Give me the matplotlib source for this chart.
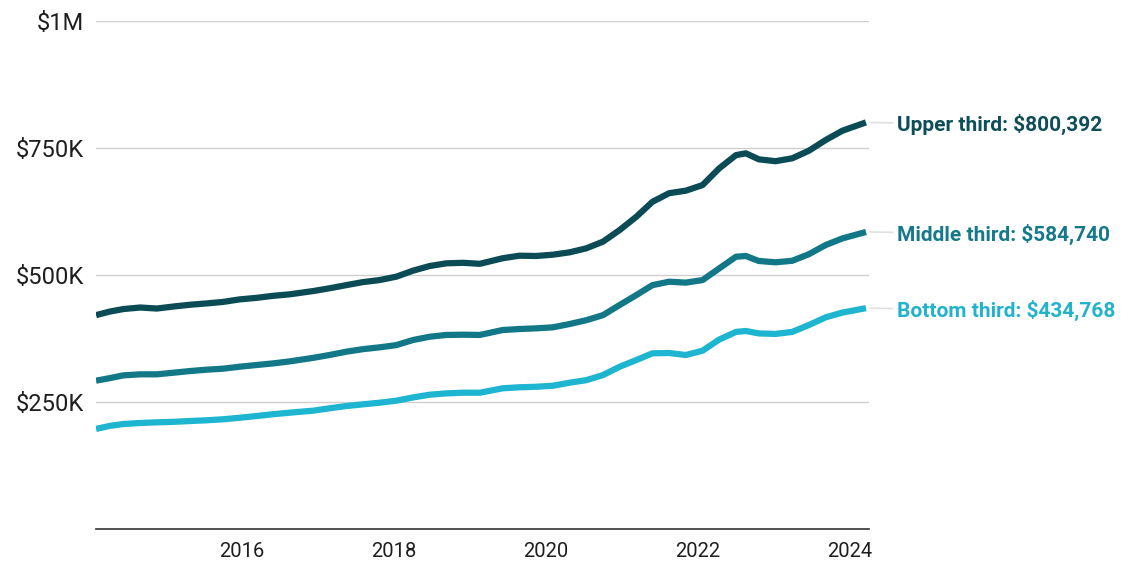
import matplotlib.pyplot as plt
from matplotlib.ticker import FuncFormatter

plt.rcParams['font.family'] = ['Roboto', 'DejaVu Sans']

# Decimal years of the points
years = [2014.08, 2014.26, 2014.44, 2014.66, 2014.88, 2015.10, 2015.32, 2015.53,
         2015.75, 2015.97, 2016.19, 2016.41, 2016.63, 2016.94, 2017.15, 2017.37,
         2017.59, 2017.81, 2018.03, 2018.25, 2018.47, 2018.69, 2018.91, 2019.13,
         2019.43, 2019.65, 2019.87, 2020.09, 2020.31, 2020.53, 2020.75, 2020.97,
         2021.19, 2021.40, 2021.62, 2021.84, 2022.06, 2022.28, 2022.50, 2022.63,
         2022.80, 2023.02, 2023.24, 2023.46, 2023.68, 2023.90, 2024.21]

# Typical home value, thousands of dollars
upper = [421, 428, 433, 436, 434, 438, 441.5, 444,
         447, 452, 455, 459, 462, 468.5, 473.8, 480,
         486, 490, 496.7, 508.5, 517.7, 523, 524, 522,
         533, 538, 537.4, 540, 544.6, 552.5, 565.6, 588.6,
         614.8, 644, 661, 666, 677, 710, 736, 739.5,
         727.7, 724, 729.7, 744.7, 765.7, 784, 800.392]
middle = [292, 297, 302.5, 304.5, 304.5, 307.7, 311, 313.6,
          315.6, 319.5, 322.8, 326, 330, 337, 342.5, 349,
          354, 357.6, 362, 372, 378.5, 382, 382.5, 382,
          391.7, 393.7, 395, 397, 403.5, 411, 421, 441,
          460.6, 480, 486.8, 485, 490, 513, 536, 537.4,
          527.6, 525, 528, 541, 559, 572, 584.740]
bottom = [197, 203, 206.7, 208.7, 210, 211, 212.6, 214,
          216, 219, 222.4, 226, 229, 233, 237.6, 242,
          245.4, 248.6, 252.6, 259, 264.4, 267, 268.3, 268.3,
          277, 279, 280, 282, 288, 293, 303, 319.5,
          332.7, 345.8, 346.5, 342.5, 351, 373, 388, 389.8,
          385, 384, 388, 401.6, 416.7, 426, 434.768]

labels = ['Upper third: $800,392', 'Middle third: $584,740', 'Bottom third: $434,768']
colors = ['#0b4b56', '#127888', '#1db5cf']
text_colors = ['#0e4e59', '#16798a', '#22b3cc']

fig = plt.figure(figsize=(11.34, 5.61), dpi=100)
ax = fig.add_axes([0.0847, 0.057, 0.6816, 0.9056])

for series, c, tc, lab in zip([upper, middle, bottom], colors, text_colors, labels):
    vals = [v * 1000 for v in series]
    ax.plot(years, vals, color=c, lw=4.5, solid_capstyle='butt', solid_joinstyle='round', zorder=3)
    ax.annotate(lab, xy=(years[-1], vals[-1]), xytext=(31, -2), textcoords='offset pixels',
                va='center', ha='left', fontsize=15, fontweight='bold', color=tc,
                annotation_clip=False,
                arrowprops=dict(arrowstyle='-', color='#e0e0e0', lw=1.2, shrinkA=1, shrinkB=3))

ax.set_xlim(2014.08, 2024.25)
ax.set_ylim(0, 1000000)
ax.set_yticks([250000, 500000, 750000, 1000000])
ax.yaxis.set_major_formatter(FuncFormatter(lambda v, p: '$1M' if v >= 1e6 else '$%dK' % (v / 1000)))
ax.set_xticks([2016, 2018, 2020, 2022, 2024])
ax.set_xticklabels(['2016', '2018', '2020', '2022', '2024'])

ax.grid(axis='y', color='#d0d0d0', lw=1)
ax.set_axisbelow(True)
for s in ['top', 'right', 'left']:
    ax.spines[s].set_visible(False)
ax.spines['bottom'].set_color('#333333')
ax.spines['bottom'].set_linewidth(1.2)
ax.tick_params(axis='y', length=0, pad=9, labelsize=17, labelcolor='#1e1e1e')
ax.tick_params(axis='x', length=0, pad=9, labelsize=14.5, labelcolor='#1e1e1e')

fig.savefig('out.png', dpi=100)
